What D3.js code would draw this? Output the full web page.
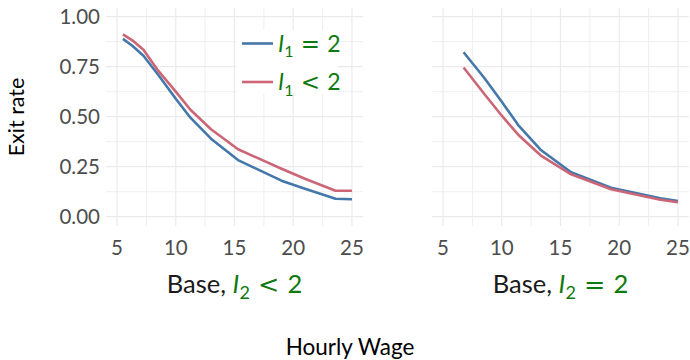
<!DOCTYPE html>
<html>
<head>
<meta charset="utf-8">
<script src="https://cdn.jsdelivr.net/npm/d3@7"></script>
<style>
  html, body { margin: 0; padding: 0; background: #fff; }
  svg { display: block; font-family: Lato, "Open Sans", sans-serif; }
</style>
</head>
<body>
<svg id="chart" width="690" height="360"></svg>
<script>
// ---- data ----
const xTicks = [5, 10, 15, 20, 25];
const yTicks = [0, 0.25, 0.5, 0.75, 1.0];
const yTickLabels = ["0.00", "0.25", "0.50", "0.75", "1.00"];
const seriesNames = ["I1 = 2", "I1 < 2"];
// Left panel: Base, I2 < 2
const leftWage   = [5.5, 6.3, 7.25, 8.5, 10, 11.25, 13, 15.3, 19, 21, 23.6, 25];
const leftEq2    = [0.889, 0.855, 0.805, 0.71, 0.59, 0.495, 0.39, 0.283, 0.18, 0.14, 0.09, 0.087];
const leftLt2    = [0.912, 0.882, 0.835, 0.73, 0.625, 0.535, 0.437, 0.337, 0.24, 0.19, 0.13, 0.13];
// Right panel: Base, I2 = 2
const rightWage  = [6.75, 8.5, 10, 11.4, 13.3, 15.9, 19.3, 23.5, 25];
const rightEq2   = [0.822, 0.695, 0.575, 0.458, 0.335, 0.222, 0.145, 0.092, 0.078];
const rightLt2   = [0.746, 0.615, 0.505, 0.41, 0.307, 0.212, 0.137, 0.085, 0.072];

const colors = ["#4477AA", "#CC6677"];
const green = "#0f7a0f";
const mathFont = "DejaVu Sans";

const svg = d3.select("#chart");

const panels = [
  { x0: 106, x1: 363, wage: leftWage, s: [leftEq2, leftLt2], sub: "<" },
  { x0: 432, x1: 689, wage: rightWage, s: [rightEq2, rightLt2], sub: "=" }
];
const yTop = 8, yBot = 226;
const y = d3.scaleLinear().domain([-0.0465, 1.0435]).range([yBot, yTop]);

panels.forEach((p, pi) => {
  const x = d3.scaleLinear().domain([4.06, 25.94]).range([p.x0, p.x1]);
  const g = svg.append("g");
  const xMinor = [7.5, 12.5, 17.5, 22.5];
  const yMinor = [0.125, 0.375, 0.625, 0.875];
  g.selectAll(".xm").data(xMinor).join("line")
    .attr("x1", d => x(d)).attr("x2", d => x(d)).attr("y1", yTop).attr("y2", yBot)
    .attr("stroke", "#efefef").attr("stroke-width", 1);
  g.selectAll(".ym").data(yMinor).join("line")
    .attr("y1", d => y(d)).attr("y2", d => y(d)).attr("x1", p.x0).attr("x2", p.x1)
    .attr("stroke", "#efefef").attr("stroke-width", 1);
  g.selectAll(".xM").data(xTicks).join("line")
    .attr("x1", d => x(d)).attr("x2", d => x(d)).attr("y1", yTop).attr("y2", yBot)
    .attr("stroke", "#ebebeb").attr("stroke-width", 1.2);
  g.selectAll(".yM").data(yTicks).join("line")
    .attr("y1", d => y(d)).attr("y2", d => y(d)).attr("x1", p.x0).attr("x2", p.x1)
    .attr("stroke", "#ebebeb").attr("stroke-width", 1.2);

  g.selectAll(".xt").data(xTicks).join("text")
    .attr("x", d => x(d)).attr("y", 255)
    .attr("text-anchor", "middle").attr("font-size", 20.5).attr("fill", "#4d4d4d")
    .text(d => d);

  const line = d3.line().x((d, i) => x(p.wage[i])).y(d => y(d));
  p.s.forEach((vals, si) => {
    g.append("path").datum(vals)
      .attr("d", line).attr("fill", "none")
      .attr("stroke", colors[si]).attr("stroke-width", 2.6)
      .attr("stroke-linejoin", "round");
  });

  const ft = g.append("text")
    .attr("x", (p.x0 + p.x1) / 2).attr("y", 293)
    .attr("text-anchor", "middle").attr("font-size", 25.5).attr("fill", "#1a1a1a");
  ft.append("tspan").text("Base, ");
  ft.append("tspan").attr("fill", green).attr("font-style", "italic").text("I");
  ft.append("tspan").attr("fill", green).attr("font-size", 18).attr("dy", 6).text("2");
  ft.append("tspan").attr("fill", green).attr("dy", -6).attr("font-family", mathFont)
    .text(" " + p.sub + " ");
  ft.append("tspan").attr("fill", green).text("2");
});

svg.selectAll(".yt").data(yTicks).join("text")
  .attr("x", 100).attr("y", d => y(d) + 7.5)
  .attr("text-anchor", "end").attr("font-size", 20.5).attr("fill", "#4d4d4d")
  .text((d, i) => yTickLabels[i]);

svg.append("text")
  .attr("transform", `translate(24, ${(yTop + yBot) / 2}) rotate(-90)`)
  .attr("text-anchor", "middle").attr("font-size", 21.5).attr("fill", "#000")
  .text("Exit rate");
svg.append("text")
  .attr("x", 350).attr("y", 355)
  .attr("text-anchor", "middle").attr("font-size", 22.5).attr("fill", "#000")
  .text("Hourly Wage");

const lg = svg.append("g");
lg.append("rect").attr("x", 236).attr("y", 30).attr("width", 102).attr("height", 64).attr("fill", "#fff");
const legendY = [43.5, 82];
seriesNames.forEach((name, i) => {
  lg.append("line").attr("x1", 242).attr("x2", 273).attr("y1", legendY[i]).attr("y2", legendY[i])
    .attr("stroke", colors[i]).attr("stroke-width", 2.6);
  const t = lg.append("text").attr("x", 278).attr("y", legendY[i] + 8)
    .attr("font-size", 23).attr("fill", green);
  t.append("tspan").attr("font-style", "italic").text(name.slice(0, 1));
  t.append("tspan").attr("font-size", 16).attr("dy", 5.5).text(name.slice(1, 2));
  t.append("tspan").attr("dy", -5.5).attr("font-family", mathFont).text(" " + name.slice(3, 4) + " ");
  t.append("tspan").text(name.slice(5));
});
</script>
</body>
</html>
